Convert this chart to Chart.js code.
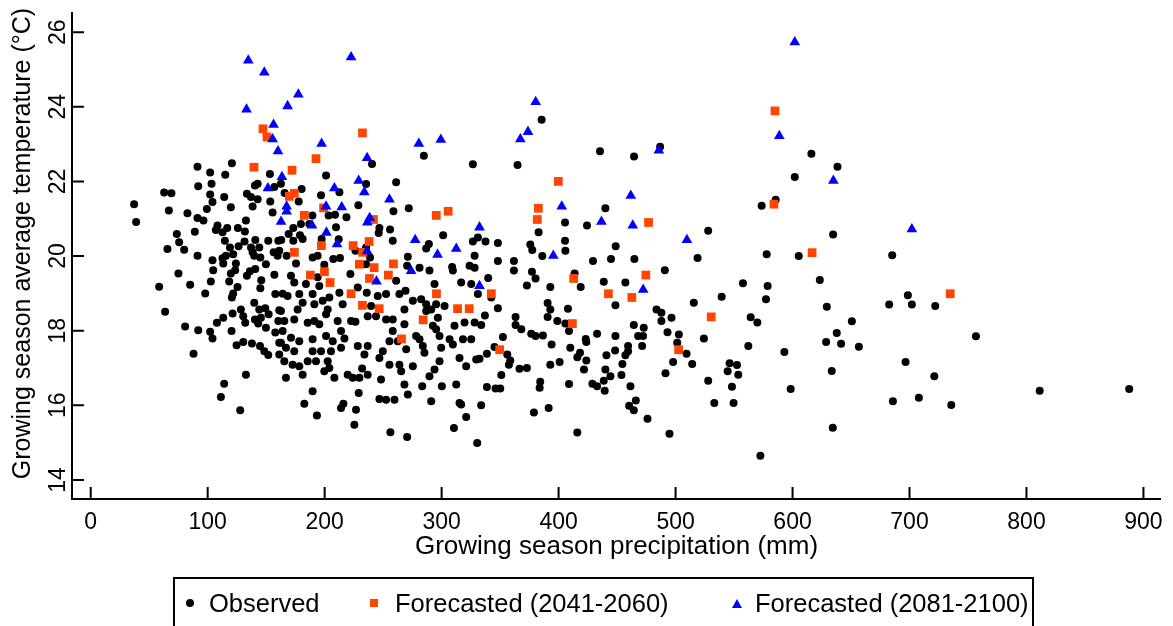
<!DOCTYPE html>
<html>
<head>
<meta charset="utf-8">
<script src="https://cdn.jsdelivr.net/npm/chart.js@4/dist/chart.umd.min.js"></script>
<style>
  html, body { margin: 0; padding: 0; background: #fff; }
  #wrap { position: relative; width: 1173px; height: 626px; overflow: hidden; }
  #wrap canvas { position: absolute; left: 0; top: 0; }
  .legend {
    position: absolute; left: 173px; top: 577px; width: 861px; height: 80px;
    border: 2px solid #000; box-sizing: border-box;
    font-family: "Liberation Sans", Arial, sans-serif; font-size: 25.5px; color: #000;
  }
  .item { position: absolute; top: 10px; line-height: 28px; white-space: nowrap; }
  .dot { position: absolute; left: 11px; top: 20px; width: 8px; height: 8px; border-radius: 50%; background: #000; }
  .sq { position: absolute; left: 195px; top: 20px; width: 8px; height: 8px; background: rgb(255,69,0); }
  .tri { position: absolute; left: 557px; top: 19.5px; width: 0; height: 0;
    border-left: 5px solid transparent; border-right: 5px solid transparent; border-bottom: 9px solid #0000ff; }
</style>
</head>
<body>
<div id="wrap">
  <canvas id="chart" width="1173" height="626"></canvas>
  <div class="legend">
    <span class="dot"></span><span class="item" style="left:34px">Observed</span>
    <span class="sq"></span><span class="item" style="left:220px">Forecasted (2041-2060)</span>
    <span class="tri"></span><span class="item" style="left:580px">Forecasted (2081-2100)</span>
  </div>
</div>
<script>
// tick values on both axes
const xTicks = [0, 100, 200, 300, 400, 500, 600, 700, 800, 900];
const yTicks = [14, 16, 18, 20, 22, 24, 26];
const yTitle = 'Growing season average temperature (°C)';

// [precipitation (mm), temperature (°C)]
const observed = [
  [91.3,22.39],[120.7,22.49],[102.1,22.24],[115.0,22.18],[153.2,22.20],[91.9,21.87],[103.3,21.94],[140.4,21.89],
  [142.7,21.94],[157.0,21.85],[62.8,21.70],[69.0,21.68],[102.1,21.65],[114.1,21.58],[133.5,21.67],[137.0,21.58],
  [142.7,21.52],[104.1,21.45],[153.5,21.46],[37.1,21.39],[119.8,21.31],[138.4,21.33],[66.8,21.22],[99.3,21.26],
  [155.5,21.17],[82.7,21.15],[91.3,21.02],[96.4,20.95],[38.8,20.91],[132.7,20.95],[73.6,20.59],[89.0,20.65],
  [108.4,20.82],[107.0,20.70],[112.7,20.64],[116.7,20.75],[125.8,20.75],[131.8,20.66],[75.6,20.37],[114.7,20.41],
  [131.5,20.39],[140.7,20.43],[151.8,20.41],[160.4,20.41],[65.6,20.19],[79.9,20.17],[119.0,20.23],[126.4,20.26],
  [137.0,20.23],[138.4,20.10],[144.1,20.23],[156.4,20.10],[91.3,20.01],[104.1,19.89],[112.7,19.94],[115.6,20.01],
  [121.8,20.05],[139.8,20.01],[145.0,19.96],[159.8,20.01],
  [113.3,19.80],[124.1,19.80],[149.8,19.78],[75.0,19.53],[104.7,19.62],[119.8,19.53],[123.5,19.62],[133.5,19.47],
  [136.1,19.59],[140.7,19.65],[157.0,19.50],[58.5,19.18],[85.0,19.23],[102.7,19.32],[118.4,19.32],[125.5,19.17],
  [145.8,19.35],[145.0,19.14],[97.9,19.00],[121.8,19.00],[120.7,18.89],[157.8,18.98],[139.8,18.75],[63.6,18.51],
  [128.4,18.57],[144.1,18.57],[149.2,18.60],[121.3,18.46],[130.4,18.39],[140.4,18.30],[145.5,18.35],[152.1,18.44],
  [161.2,18.55],[107.9,18.21],[113.3,18.35],[132.1,18.21],[143.2,18.19],[149.8,18.08],[160.4,18.26],[80.7,18.11],
  [91.9,18.01],[102.1,17.97],[104.1,17.79],[120.4,17.99],[124.7,17.61],[130.4,17.70],[137.8,17.66],[144.7,17.59],
  [148.4,17.45],[151.8,17.35],[157.8,17.95],[161.2,17.68],[161.2,17.36],[87.9,17.38],[132.7,16.82],[114.1,16.58],
  [111.3,16.22],[127.8,15.87],
  [284.8,22.69],[326.7,22.46],[240.5,22.47],[201.2,22.16],[235.4,21.93],[261.1,21.98],[180.3,21.80],[165.8,21.69],
  [162.6,21.94],[196.9,21.63],[212.6,21.71],[177.8,21.46],[228.8,21.36],[258.8,21.20],[271.9,21.28],[189.5,21.09],
  [203.4,21.09],[208.9,21.11],[218.6,21.04],[209.7,20.77],[173.2,20.75],[179.7,20.86],[186.9,20.86],[246.8,20.75],
  [246.2,20.62],[255.9,20.71],[169.2,20.59],[178.9,20.56],[181.2,20.46],[162.9,20.43],[173.2,20.41],[197.4,20.46],
  [212.0,20.45],[258.2,20.41],[301.3,20.56],[326.7,20.39],[331.0,20.50],[289.1,20.32],[286.8,20.20],[226.3,20.14],
  [235.4,20.23],[161.2,20.14],[167.5,20.01],[189.7,19.96],[194.0,20.01],[207.4,19.92],[238.8,19.96],[271.1,19.98],
  [328.2,20.01],
  [175.5,19.80],[199.7,19.77],[213.1,19.95],[222.0,19.52],[235.4,19.78],[270.5,19.74],[281.1,19.69],[289.6,19.61],
  [309.0,19.71],[323.9,19.74],[328.2,19.69],[309.6,19.61],[171.2,19.47],[174.0,19.29],[184.0,19.25],[194.0,19.43],
  [195.4,19.20],[212.6,19.02],[215.4,18.71],[228.3,19.16],[236.0,19.02],[245.4,18.93],[252.5,18.98],[261.1,19.34],
  [263.9,18.98],[269.1,19.07],[275.4,18.80],[282.5,18.84],[286.8,18.71],[293.9,19.25],[295.3,18.71],[302.5,18.66],
  [316.7,19.29],[325.3,19.25],[331.0,18.98],[164.1,18.99],[168.3,18.93],[178.3,18.98],[181.2,18.75],[189.7,18.98],
  [191.2,18.71],[198.3,18.80],[202.6,18.57],[204.0,18.89],[176.9,18.57],[162.6,18.53],[239.7,18.66],[236.8,18.39],
  [243.9,18.39],[252.5,18.30],[258.2,18.30],[268.2,18.57],[268.2,18.17],[286.8,18.53],[291.1,18.57],[292.5,18.13],
  [295.3,18.04],[298.2,17.86],[296.8,18.35],[311.0,18.13],[319.6,18.22],[328.2,18.22],[165.5,18.26],[174.0,18.30],
  [185.5,18.21],[191.2,18.26],[195.4,18.17],[201.2,18.44],[211.1,18.26],[214.0,17.99],[216.9,17.79],[222.6,18.26],
  [226.3,18.24],[164.1,17.99],[171.2,17.81],[178.3,17.72],[189.7,17.77],[201.2,17.86],[206.9,17.72],[162.6,17.68],
  [166.9,17.54],[174.0,17.45],[189.7,17.45],[196.9,17.45],[205.4,17.45],[214.0,17.54],[228.3,17.59],[236.8,17.59],
  [234.0,17.36],[246.8,17.27],[249.7,17.45],[255.4,17.72],[258.2,17.99],[262.5,17.72],[255.4,17.09],[263.9,17.09],
  [269.7,17.50],[275.4,17.05],[278.2,17.86],[281.1,17.77],[283.9,17.59],[285.3,17.41],[299.6,17.54],[306.8,17.77],
  [309.6,17.63],[318.2,17.77],[325.3,17.77],[315.3,17.27],[321.0,17.05],[329.6,17.23],[298.2,17.18],[293.9,16.96],
  [165.5,17.18],[172.6,17.09],[178.3,17.05],[185.5,17.18],[192.6,17.18],[202.6,17.18],[204.0,17.00],[208.3,16.74],
  [166.9,16.74],[181.2,16.82],[199.7,16.91],[219.7,16.82],[224.0,16.74],[229.7,16.74],[232.0,16.99],[236.8,16.82],
  [248.2,16.69],[265.4,16.91],[268.2,16.56],[271.1,16.29],[289.6,16.78],[283.4,16.51],[300.2,16.51],[312.5,16.56],
  [189.7,16.38],[182.6,16.04],[193.4,15.73],[214.0,15.93],[216.0,16.04],[226.8,15.88],[229.1,16.33],[246.8,16.17],
  [252.5,16.15],[259.7,16.15],[291.1,16.11],[315.3,16.06],[316.7,16.02],[321.0,15.69],[310.5,15.39],[225.4,15.48],
  [256.2,15.28],[270.5,15.15],[330.4,14.99],
  [385.5,23.65],[364.9,22.44],[435.4,22.81],[464.5,22.67],[486.8,22.93],[440.0,21.28],[405.5,20.90],[424.3,20.82],
  [382.9,20.64],[527.9,20.68],[337.5,20.39],[348.1,20.35],[375.8,20.31],[377.5,20.16],[386.1,20.00],[405.5,20.41],
  [405.8,20.14],[448.8,20.26],[444.8,19.92],[464.8,19.92],[518.8,19.95],[429.4,19.87],[348.1,19.87],[361.8,19.87],
  [361.8,19.61],[377.2,19.58],[380.3,19.40],[490.8,19.62],[413.7,19.53],[418.9,19.17],[438.6,19.31],[457.1,19.29],
  [372.9,19.21],[392.9,19.17],[339.8,19.41],[342.4,18.89],[348.1,18.60],[337.0,18.41],[333.8,18.15],[363.2,18.37],
  [363.2,18.15],[368.1,18.04],[390.6,18.74],[392.9,18.57],[390.6,18.37],[398.9,18.26],[408.0,18.59],[405.8,18.19],
  [408.9,17.99],[448.6,18.68],[376.6,17.92],[380.3,17.86],[386.6,17.87],[352.4,17.83],[345.2,17.56],[338.7,17.38],
  [356.1,17.36],[358.7,17.20],[357.5,17.09],[366.6,16.98],[372.9,17.00],[394.0,17.63],[400.9,17.16],[392.9,17.09],
  [410.0,17.54],[423.2,17.78],[423.7,17.70],[432.9,17.92],[448.6,17.86],[418.3,17.41],[416.0,17.29],[423.7,17.20],
  [421.7,16.96],[440.9,17.34],[448.3,17.47],[459.4,17.59],[459.4,17.45],[457.1,17.34],[454.5,17.11],[440.0,16.96],
  [444.3,16.78],[453.7,16.81],[438.6,16.66],[428.9,16.58],[432.9,16.51],[439.4,16.39],[461.4,16.51],[464.3,18.15],
  [468.0,17.86],[472.2,17.86],[472.8,18.08],[471.4,17.59],[483.7,18.57],[487.9,18.48],[487.9,18.26],[496.5,18.35],
  [493.1,17.96],[502.8,17.90],[501.4,17.68],[509.4,17.38],[497.9,17.16],[514.2,17.11],[491.4,16.86],[515.6,18.75],
  [524.2,17.79],[527.9,16.66],[332.4,17.25],[338.7,16.49],[346.1,16.45],[350.1,16.45],[351.0,16.81],[333.8,16.00],
  [384.3,16.63],[383.8,16.47],[408.9,16.57],[460.3,15.99],[464.3,15.87],[466.0,16.13],[476.0,15.64],[378.9,15.81],
  [391.5,15.93],[416.0,15.27],[494.8,15.24],
  [616.1,22.74],[638.4,22.39],[601.9,22.12],[585.6,21.51],[573.6,21.35],[634.7,20.58],[577.9,20.05],[605.3,20.00],
  [685.2,20.02],[557.6,19.27],[578.7,19.20],[623.3,19.36],[539.4,18.91],[577.3,18.84],[629.3,18.64],[564.2,18.36],
  [569.9,18.22],[562.2,17.59],[593.0,17.43],[628.7,17.70],[637.8,17.94],[641.5,17.65],[650.7,18.25],[656.7,17.57],
  [633.5,16.92],[546.2,17.13],[552.5,17.08],[544.5,16.91],[553.6,16.82],[548.2,16.50],[533.1,16.06],[549.6,16.06],
  [598.4,16.44],[572.5,14.65],[634.4,15.40],[682.6,18.70],[698.6,18.95],[702.0,18.70],[722.0,18.66],[696.6,17.16],
  [721.2,16.78],[685.8,16.11],[708.0,16.20],[735.7,16.01],[756.8,17.85],[811.3,16.39],[887.8,16.44]
];

const forecast2050 = [
  [147.3,23.41],[150.7,23.19],[139.6,22.38],[232.3,23.30],[192.6,22.61],[172.1,22.30],[174.1,21.68],[169.8,21.60],
  [199.1,21.29],[182.6,21.09],[241.7,20.98],[295.4,21.09],[305.6,21.20],[197.2,20.28],[224.3,20.28],[238.0,20.39],
  [174.1,20.10],[232.5,20.10],[399.8,22.00],[382.7,21.28],[381.8,20.98],[476.9,20.90],[585.0,23.89],[584.1,21.39],
  [616.7,20.09],[229.7,19.78],[242.3,19.69],[258.8,19.79],[187.8,19.49],[199.8,19.58],[204.6,19.29],[238.3,19.40],
  [254.5,19.49],[222.6,18.99],[232.3,18.68],[246.6,18.59],[295.6,18.99],[313.6,18.59],[323.6,18.59],[284.2,18.29],
  [265.7,17.78],[342.5,18.99],[349.6,17.49],[412.9,19.40],[474.6,19.49],[442.6,18.99],[462.6,18.89],[411.8,18.19],
  [502.6,17.49],[530.5,18.37],[734.8,18.99]
];

const forecast2090 = [
  [134.7,25.24],[148.4,24.92],[133.2,23.93],[156.3,23.52],[155.5,23.13],[160.1,22.81],[151.5,21.82],[222.6,25.33],
  [177.5,24.33],[168.3,24.02],[197.4,23.01],[280.5,23.01],[299.3,23.12],[236.3,22.63],[163.5,22.12],[229.1,22.02],
  [208.3,21.82],[233.9,21.71],[255.4,21.52],[167.5,21.33],[167.5,21.20],[201.2,21.33],[214.6,21.31],[238.5,21.02],
  [236.5,20.90],[162.7,20.92],[189.2,20.82],[201.5,20.63],[210.6,20.32],[236.3,20.13],[277.4,20.43],[296.5,20.04],
  [312.5,20.20],[332.4,20.77],[380.4,24.13],[373.8,23.33],[367.3,23.13],[485.7,22.83],[461.7,21.62],[402.7,21.33],
  [436.6,20.92],[463.4,20.82],[395.5,20.01],[509.7,20.43],[601.9,25.73],[588.7,23.22],[634.9,22.02],[702.0,20.72],
  [273.9,19.60],[244.3,19.32],[332.4,19.20],[472.3,19.10]
];

const toXY = arr => arr.map(p => ({ x: p[0], y: p[1] }));
const font = 'Liberation Sans, Arial, sans-serif';

// axis lines with ticks pointing into the plot, plus the y title
const axisDecor = {
  id: 'axisDecor',
  beforeDatasetsDraw(chart) {
    const { ctx, chartArea: { left, right, top, bottom }, scales: { x, y } } = chart;
    ctx.save();
    ctx.strokeStyle = '#000';
    ctx.lineWidth = 2;
    ctx.beginPath();
    ctx.moveTo(left, top);
    ctx.lineTo(left, bottom);
    ctx.lineTo(right, bottom);
    xTicks.forEach(v => {
      const px = x.getPixelForValue(v);
      ctx.moveTo(px, bottom);
      ctx.lineTo(px, bottom - 12);
    });
    yTicks.forEach(v => {
      const py = y.getPixelForValue(v);
      ctx.moveTo(left, py);
      ctx.lineTo(left + 12, py);
    });
    ctx.stroke();

    // y title sits a little above the centre of the axis
    ctx.translate(23, (top + bottom) / 2 - 12);
    ctx.rotate(-Math.PI / 2);
    ctx.fillStyle = '#000';
    ctx.font = '25px ' + font;
    ctx.textAlign = 'center';
    ctx.textBaseline = 'middle';
    ctx.fillText(yTitle, 0, 0);
    ctx.restore();
  }
};

new Chart(document.getElementById('chart').getContext('2d'), {
  type: 'scatter',
  data: {
    datasets: [
      {
        label: 'Observed',
        data: toXY(observed),
        pointStyle: 'circle',
        pointRadius: 4.0,
        backgroundColor: '#000',
        borderWidth: 0,
        order: 3,
      },
      {
        label: 'Forecasted (2041-2060)',
        data: toXY(forecast2050),
        pointStyle: 'rect',
        pointRadius: 6.2,
        backgroundColor: 'rgb(255,69,0)',
        borderWidth: 0,
        order: 2,
      },
      {
        label: 'Forecasted (2081-2100)',
        data: toXY(forecast2090),
        pointStyle: 'triangle',
        pointRadius: 6.2,
        backgroundColor: '#0000ff',
        borderWidth: 0,
        order: 1,
      },
    ],
  },
  options: {
    responsive: false,
    animation: false,
    devicePixelRatio: 1,
    events: [],
    layout: { padding: { top: 12, right: 12, bottom: 57, left: 0 } },
    plugins: {
      legend: { display: false },
      tooltip: { enabled: false },
    },
    scales: {
      x: {
        type: 'linear',
        min: -16,
        max: 915,
        afterBuildTicks: s => { s.ticks = xTicks.map(v => ({ value: v })); },
        afterFit: s => { s.height = 70; },
        grid: { display: false },
        border: { display: false },
        ticks: { autoSkip: false, maxRotation: 0, padding: 2, color: '#000', font: { family: font, size: 23 } },
        title: {
          display: true,
          text: 'Growing season precipitation (mm)',
          color: '#000',
          font: { family: font, size: 26 },
          padding: { top: 0, bottom: 7 },
        },
      },
      y: {
        type: 'linear',
        min: 13.49,
        max: 26.54,
        afterBuildTicks: s => { s.ticks = yTicks.map(v => ({ value: v })); },
        afterFit: s => { s.width = 72; },
        grid: { display: false },
        border: { display: false },
        ticks: {
          autoSkip: false, minRotation: 90, maxRotation: 90, crossAlign: 'center',
          padding: -7, color: '#000', font: { family: font, size: 23 },
        },
        title: { display: false },
      },
    },
  },
  plugins: [axisDecor],
});
</script>
</body>
</html>
